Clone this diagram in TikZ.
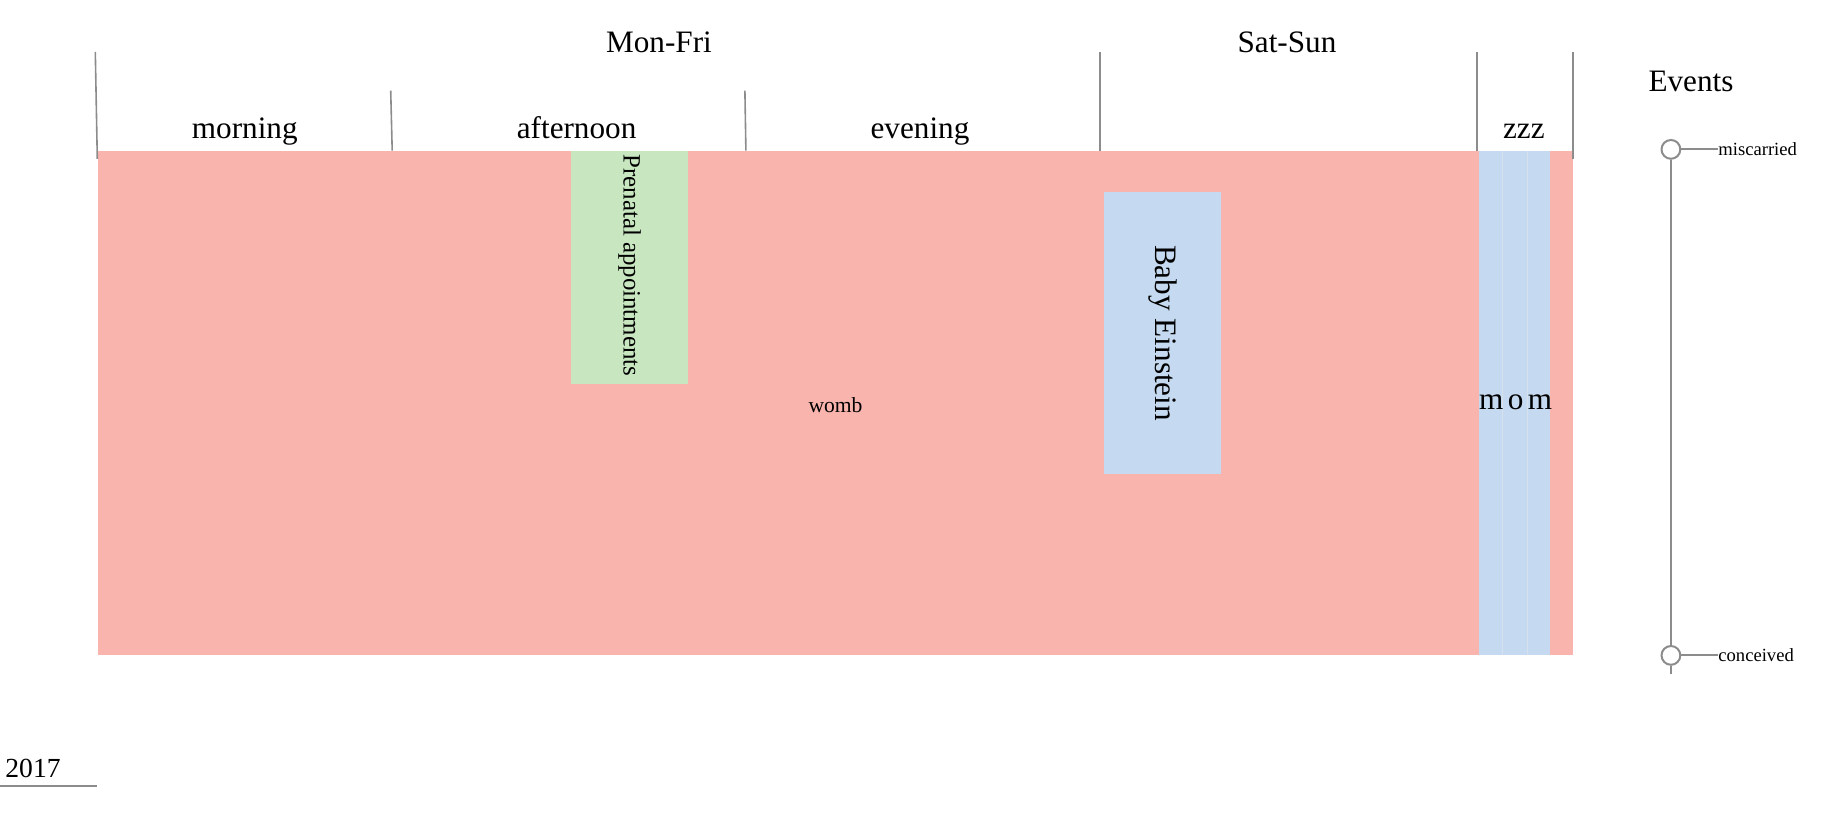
\documentclass[tikz,border=0pt]{standalone}
\usepackage{fontspec}
\setmainfont{Liberation Serif}
\newfontfamily\spacedfont[LetterSpace=14]{Liberation Serif}
\usetikzlibrary{positioning}
\definecolor{wombpink}{HTML}{FAB4AE}
\definecolor{prenatalgreen}{HTML}{C8E7C0}
\definecolor{einsteinblue}{HTML}{C5DAF0}
\definecolor{tickgray}{HTML}{8C8C8C}

\begin{document}
\begin{tikzpicture}[x=0.5pt,y=-0.5pt,
    tick/.style={draw=tickgray, line width=0.8pt},
    axislabel/.style={font=\fontsize{15.6}{18}\selectfont, inner sep=0pt},
    eventdot/.style={circle, draw=tickgray, line width=1pt, fill=white, minimum size=9.4pt, inner sep=0pt},
    eventlabel/.style={anchor=west, inner sep=0pt, font=\fontsize{9.3}{11}\selectfont}]
  \useasboundingbox (0,0) rectangle (1845,823);

  % blocks
  \fill[wombpink] (97.7,150.6) rectangle (1573.2,655.4);
  \fill[prenatalgreen] (570.7,150.6) rectangle (688.4,383.6);
  \fill[einsteinblue] (1103.7,191.8) rectangle (1221.4,474.2);
  \fill[einsteinblue] (1479.1,150.6) rectangle (1549.7,655.4);
  \draw[einsteinblue!85!gray!60!white, line width=0.3pt] (1502,150.6) -- (1502,655.4);
  \draw[einsteinblue!85!gray!60!white, line width=0.3pt] (1527,150.6) -- (1527,655.4);

  \node (womb) at (835.5,404.8) [inner sep=0pt, font=\fontsize{10.8}{13}\selectfont]{womb};
  \node (prenatal) at (629.5,154) [anchor=west, rotate=-90, inner sep=0pt, font=\fontsize{12.45}{15}\selectfont]{Prenatal appointments};
  \node (einstein) at (1162.5,333) [rotate=-90, axislabel]{Baby Einstein};
  \node (mom) at (1515.6,402.4) [inner sep=0pt, font=\spacedfont\fontsize{15.6}{18}\selectfont]{mom};

  % ticks
  \draw[tick] (95.3,51.8) -- (97.3,158.9);
  \draw[tick] (390.7,90.6) -- (392.2,150.6);
  \draw[tick] (744.9,90.6) -- (745.9,150.6);
  \draw[tick] (1100.2,51.8) -- (1100.2,150.6);
  \draw[tick] (1476.8,51.8) -- (1476.8,150.6);
  \draw[tick] (1573.2,51.8) -- (1573.2,158.9);

  \node (monfri) at (659,52.5) [axislabel, anchor=base]{Mon-Fri};
  \node (satsun) at (1287,52.5) [axislabel, anchor=base]{Sat-Sun};
  \node (morning) at (244.8,138.5) [axislabel, anchor=base]{morning};
  \node (afternoon) at (576.6,138.5) [axislabel, anchor=base]{afternoon};
  \node (evening) at (920,138.5) [axislabel, anchor=base]{evening};
  \node (zzz) at (1523.8,138.5) [axislabel, anchor=base]{zzz};

  % events
  \node (events) at (1691,91.5) [axislabel, anchor=base]{Events};
  \node (miscarried) at (1670.9,149.4) [eventdot]{};
  \node (conceived) at (1670.9,655.4) [eventdot]{};
  \coordinate (eventsEnd) at (1670.9,674.3);
  \node (miscLbl) at (1718,149.4) [eventlabel]{miscarried};
  \node (concLbl) at (1718,655.4) [eventlabel]{conceived};
  \draw[tick, line width=1pt] (miscarried) -- (conceived);
  \draw[tick, line width=1pt] (conceived) -- (eventsEnd);
  \draw[tick, line width=1pt] (miscarried) -- (miscLbl.west);
  \draw[tick, line width=1pt] (conceived) -- (concLbl.west);

  % year
  \node (year) at (33,768.4) [inner sep=0pt, font=\fontsize{13.8}{16}\selectfont]{2017};
  \coordinate (yearL) at (0,786);
  \coordinate (yearR) at (96.5,786);
  \draw[tick] (yearL) -- (yearR);
\end{tikzpicture}
\end{document}
